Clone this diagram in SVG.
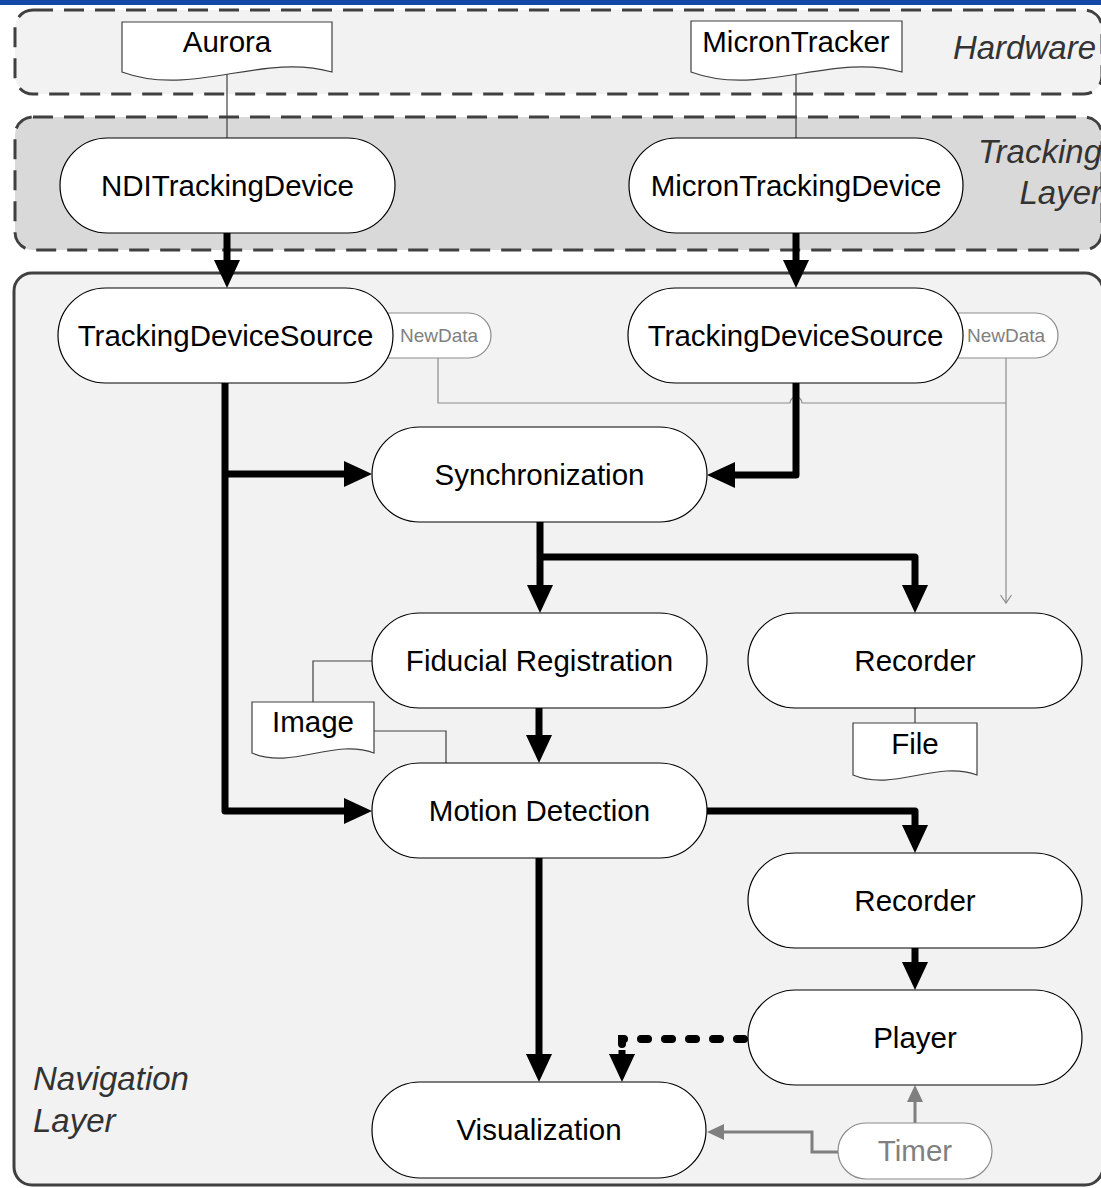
<svg xmlns="http://www.w3.org/2000/svg" width="1101" height="1188" viewBox="0 0 1101 1188">
<defs>
<style>
.layer-dash{fill:#f2f2f2;stroke:#404040;stroke-width:3;stroke-dasharray:20 11}
.layer-solid{fill:#f2f2f2;stroke:#404040;stroke-width:3}
.pill{fill:#fff;stroke:#000;stroke-width:1.2}
.doc{fill:#fff;stroke:#404040;stroke-width:1.2}
.tab{fill:#fff;stroke:#8c8c8c;stroke-width:1.2}
.t{font-family:"Liberation Sans",Arial,sans-serif;font-size:29.5px;fill:#000;text-anchor:middle}
.lbl{font-family:"Liberation Sans",Arial,sans-serif;font-size:33px;font-style:italic;fill:#333}
.nd{font-family:"Liberation Sans",Arial,sans-serif;font-size:19px;fill:#808080;text-anchor:middle}
.tm{font-family:"Liberation Sans",Arial,sans-serif;font-size:29.5px;fill:#808080;text-anchor:middle}
.thick{fill:none;stroke:#000;stroke-width:7;stroke-linejoin:round}
.dashed{fill:none;stroke:#000;stroke-width:8;stroke-linecap:round;stroke-dasharray:7 17}
.gray{fill:none;stroke:#7f7f7f;stroke-width:3}
.thin{fill:none;stroke:#8c8c8c;stroke-width:1.2}
.link{fill:none;stroke:#404040;stroke-width:1.2}
</style>
<marker id="ah" viewBox="0 0 28 26" refX="0" refY="13" markerWidth="28" markerHeight="26" markerUnits="userSpaceOnUse" orient="auto">
<path d="M0,0 L28,13 L0,26 z" fill="#000"/>
</marker>
<marker id="ahg" viewBox="0 0 17 16" refX="0" refY="8" markerWidth="17" markerHeight="16" markerUnits="userSpaceOnUse" orient="auto">
<path d="M0,0 L17,8 L0,16 z" fill="#7f7f7f"/>
</marker>
<marker id="aho" viewBox="0 0 10 12" refX="9" refY="6" markerWidth="10" markerHeight="12" markerUnits="userSpaceOnUse" orient="auto">
<path d="M1,0.5 L9,6 L1,11.5" fill="none" stroke="#8c8c8c" stroke-width="1.2"/>
</marker>
</defs>

<rect x="0" y="0" width="1101" height="5" fill="#1249a6"/>

<g id="layers">
<rect id="hardware-layer" class="layer-dash" x="15" y="10" width="1087" height="84" rx="18"/>
<rect id="tracking-layer" class="layer-dash" x="15" y="117" width="1087" height="133" rx="18" style="fill:#d9d9d9"/>
<rect id="navigation-layer" class="layer-solid" x="14" y="273" width="1089" height="912" rx="18"/>
<text class="lbl" x="1096" y="59" text-anchor="end">Hardware</text>
<text class="lbl" x="1102" y="163" text-anchor="end">Tracking</text>
<text class="lbl" x="1102" y="204" text-anchor="end">Layer</text>
<text class="lbl" x="33" y="1090">Navigation</text>
<text class="lbl" x="33" y="1132">Layer</text>
</g>

<g id="connectors">
<path class="link" d="M227,72 V138"/>
<path class="link" d="M796,72 V138"/>
<path class="link" d="M372,661 H313 V702"/>
<path class="link" d="M374,731 H446 V763"/>
<path class="link" d="M915,708 V723"/>
<path class="thin" d="M438,358 V403 H790 A6,6 0 0 1 802,403 H1006"/>
<path class="thin" d="M1006,358 V603" marker-end="url(#aho)"/>
<path class="thick" d="M227,233 V260" marker-end="url(#ah)"/>
<path class="thick" d="M796,233 V260" marker-end="url(#ah)"/>
<path class="thick" d="M225,383 V811 H344" marker-end="url(#ah)"/>
<path class="thick" d="M225,474 H344" marker-end="url(#ah)"/>
<path class="thick" d="M796,383 V475 H735" marker-end="url(#ah)"/>
<path class="thick" d="M540,522 V585" marker-end="url(#ah)"/>
<path class="thick" d="M540,557 H915 V585" marker-end="url(#ah)"/>
<path class="thick" d="M539,708 V735" marker-end="url(#ah)"/>
<path class="thick" d="M707,811 H915 V825" marker-end="url(#ah)"/>
<path class="thick" d="M539,858 V1054" marker-end="url(#ah)"/>
<path class="thick" d="M915,948 V962" marker-end="url(#ah)"/>
<path class="dashed" d="M744,1039 H622 V1050"/>
<path d="M622,1050 V1054" fill="none" stroke="#000" stroke-width="7" marker-end="url(#ah)"/>
<path class="gray" d="M838,1152 H812 V1132 H724" marker-end="url(#ahg)"/>
<path class="gray" d="M915,1123 V1102" marker-end="url(#ahg)"/>
</g>

<g id="aurora">
<path class="doc" d="M122,22 H332 V72 C262,52 192,98 122,72 Z"/>
<text class="t" x="227" y="52">Aurora</text>
</g>
<g id="microntracker">
<path class="doc" d="M691,21 H902 V72 C832,52 761,98 691,72 Z"/>
<text class="t" x="796" y="52">MicronTracker</text>
</g>
<g id="nditrackingdevice">
<rect class="pill" x="60" y="138" width="335" height="95" rx="47.5"/>
<text class="t" x="227.5" y="196">NDITrackingDevice</text>
</g>
<g id="microntrackingdevice">
<rect class="pill" x="629" y="138" width="334" height="95" rx="47.5"/>
<text class="t" x="796" y="196">MicronTrackingDevice</text>
</g>
<g id="trackingdevicesource-1">
<rect class="tab" x="340" y="313" width="151" height="45" rx="22.5"/>
<rect class="pill" x="58" y="288" width="335" height="95" rx="47.5"/>
<text class="t" x="225.5" y="346">TrackingDeviceSource</text>
<text class="nd" x="439" y="342">NewData</text>
</g>
<g id="trackingdevicesource-2">
<rect class="tab" x="910" y="313" width="148" height="45" rx="22.5"/>
<rect class="pill" x="628" y="288" width="335" height="95" rx="47.5"/>
<text class="t" x="795.5" y="346">TrackingDeviceSource</text>
<text class="nd" x="1006" y="342">NewData</text>
</g>
<g id="synchronization">
<rect class="pill" x="372" y="427" width="335" height="95" rx="47.5"/>
<text class="t" x="539.5" y="485">Synchronization</text>
</g>
<g id="fiducial-registration">
<rect class="pill" x="372" y="613" width="335" height="95" rx="47.5"/>
<text class="t" x="539.5" y="671">Fiducial Registration</text>
</g>
<g id="image">
<path class="doc" d="M252,702 H374 V753 C333,738 293,770 252,753 Z"/>
<text class="t" x="313" y="732">Image</text>
</g>
<g id="recorder-1">
<rect class="pill" x="748" y="613" width="334" height="95" rx="47.5"/>
<text class="t" x="915" y="671">Recorder</text>
</g>
<g id="file">
<path class="doc" d="M853,723 H977 V775 C936,760 894,792 853,775 Z"/>
<text class="t" x="915" y="754">File</text>
</g>
<g id="motion-detection">
<rect class="pill" x="372" y="763" width="335" height="95" rx="47.5"/>
<text class="t" x="539.5" y="821">Motion Detection</text>
</g>
<g id="recorder-2">
<rect class="pill" x="748" y="853" width="334" height="95" rx="47.5"/>
<text class="t" x="915" y="911">Recorder</text>
</g>
<g id="player">
<rect class="pill" x="748" y="990" width="334" height="95" rx="47.5"/>
<text class="t" x="915" y="1048">Player</text>
</g>
<g id="visualization">
<rect class="pill" x="372" y="1082" width="334" height="96" rx="48"/>
<text class="t" x="539" y="1140">Visualization</text>
</g>
<g id="timer">
<rect x="838" y="1123" width="154" height="56" rx="28" fill="#fff" stroke="#8c8c8c" stroke-width="1.2"/>
<text class="tm" x="915" y="1161">Timer</text>
</g>
</svg>
